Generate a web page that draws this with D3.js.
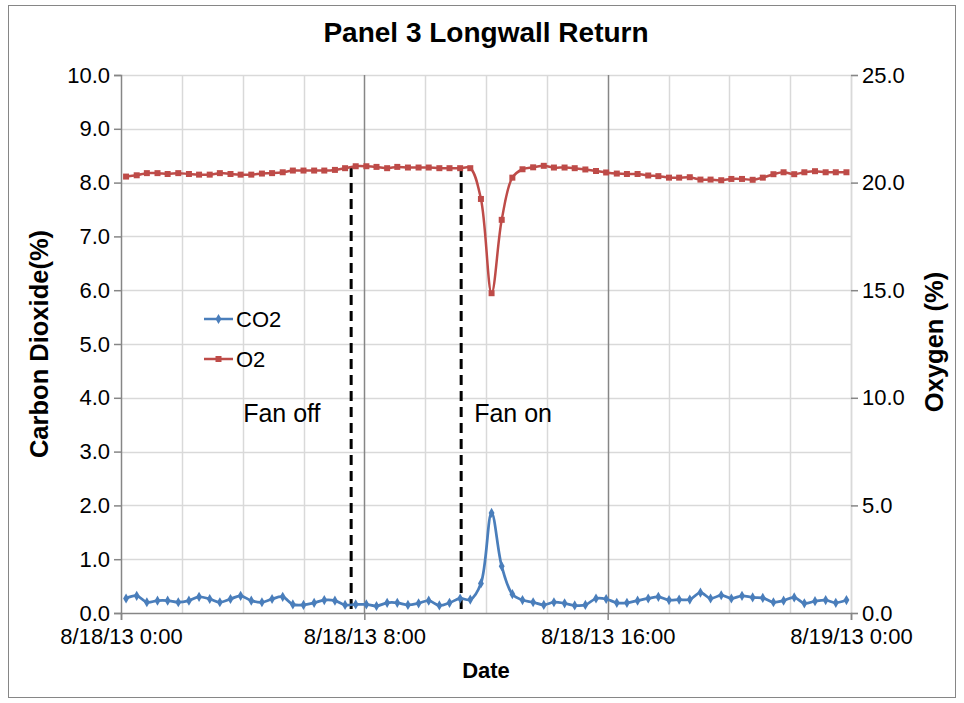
<!DOCTYPE html>
<html>
<head>
<meta charset="utf-8">
<script src="https://cdn.jsdelivr.net/npm/d3@7"></script>
<style>
  html, body { margin: 0; padding: 0; background: #fff; }
  svg { display: block; font-family: "Liberation Sans", Arial, sans-serif; }
</style>
</head>
<body>
<svg id="chart" width="964" height="703"></svg>
<script>
// ---- data ----
const minutes = [10,31,51,72,92,113,134,154,175,195,216,236,257,278,298,319,339,360,381,401,
  422,442,463,484,504,525,545,566,587,607,628,648,669,689,710,731,751,772,792,813,
  834,854,875,895,916,937,957,978,998,1019,1040,1060,1081,1101,1122,1143,1163,1184,1204,1225,
  1246,1266,1287,1307,1328,1348,1369,1390,1410,1431];
const co2 = [0.27,0.32,0.20,0.23,0.23,0.20,0.23,0.30,0.26,0.20,
  0.26,0.32,0.23,0.20,0.26,0.30,0.16,0.15,0.19,0.24,
  0.23,0.15,0.16,0.16,0.13,0.19,0.19,0.15,0.18,0.23,
  0.14,0.19,0.27,0.25,0.55,1.86,0.87,0.35,0.24,0.20,
  0.15,0.20,0.18,0.14,0.15,0.27,0.26,0.19,0.19,0.23,
  0.27,0.30,0.24,0.25,0.25,0.38,0.27,0.33,0.27,0.32,
  0.29,0.28,0.20,0.23,0.29,0.18,0.22,0.24,0.19,0.24];
const o2 = [20.28,20.34,20.44,20.44,20.40,20.44,20.40,20.37,20.37,20.44,
  20.40,20.37,20.37,20.42,20.44,20.48,20.56,20.56,20.56,20.56,
  20.59,20.67,20.76,20.76,20.73,20.67,20.73,20.70,20.70,20.70,
  20.67,20.67,20.67,20.67,19.24,14.86,18.27,20.23,20.62,20.71,
  20.78,20.70,20.70,20.67,20.61,20.54,20.47,20.42,20.40,20.40,
  20.33,20.30,20.23,20.23,20.25,20.14,20.14,20.11,20.17,20.17,
  20.13,20.23,20.39,20.48,20.39,20.48,20.53,20.48,20.48,20.48];
const xTickMinutes = [0,480,960,1440];
const xTickLabels = ["8/18/13 0:00","8/18/13 8:00","8/18/13 16:00","8/19/13 0:00"];
const leftTicks = [0,1,2,3,4,5,6,7,8,9,10];
const rightTicks = [0,5,10,15,20,25];
const fanEvents = [{label:"Fan off", minute:454}, {label:"Fan on", minute:671}];
const seriesNames = ["CO2","O2"];

// ---- layout ----
const svg = d3.select("#chart");
const L = 121, R = 851, T = 75, B = 613;
const x = d3.scaleLinear().domain([0,1440]).range([L,R]);
const yL = d3.scaleLinear().domain([0,10]).range([B,T]);
const yR = d3.scaleLinear().domain([0,25]).range([B,T]);

const blue = "#4A7EBB", red = "#BE4B48", axisCol = "#868686", gridCol = "#D9D9D9";

// outer border
svg.append("rect").attr("x",8.5).attr("y",5.5).attr("width",947).attr("height",692)
  .attr("fill","#fff").attr("stroke","#868686").attr("stroke-width",1);

// title
svg.append("text").attr("x",486).attr("y",42).attr("text-anchor","middle")
  .attr("font-size",28).attr("font-weight","bold").text("Panel 3 Longwall Return");

// horizontal gridlines
svg.append("g").selectAll("line").data(leftTicks.filter(d=>d>0)).join("line")
  .attr("x1",L).attr("x2",R).attr("y1",d=>Math.round(yL(d))+0.5).attr("y2",d=>Math.round(yL(d))+0.5)
  .attr("stroke",gridCol).attr("stroke-width",1.5);
// vertical gridlines every 2 hours
const vgrid = d3.range(120,1441,120);
svg.append("g").selectAll("line").data(vgrid).join("line")
  .attr("x1",d=>Math.round(x(d))+0.5).attr("x2",d=>Math.round(x(d))+0.5).attr("y1",T).attr("y2",B)
  .attr("stroke",d=> (d%480===0 && d<1440) ? axisCol : gridCol).attr("stroke-width",1.5);

// axes
const axL = d3.axisLeft(yL).tickValues(leftTicks).tickFormat(d3.format(".1f")).tickSize(7).tickPadding(4);
const gL = svg.append("g").attr("transform",`translate(${L},0)`).call(axL);
const axR = d3.axisRight(yR).tickValues(rightTicks).tickFormat(d3.format(".1f")).tickSize(7).tickPadding(4);
const gR = svg.append("g").attr("transform",`translate(${R},0)`).call(axR);
const axB = d3.axisBottom(x).tickValues(xTickMinutes).tickFormat((d,i)=>xTickLabels[i]).tickSize(7).tickPadding(8);
const gB = svg.append("g").attr("transform",`translate(0,${B})`).call(axB);
[gL,gR,gB].forEach(g=>{
  g.selectAll("path").attr("stroke",axisCol).attr("stroke-width",1.5);
  g.selectAll("line").attr("stroke",axisCol).attr("stroke-width",1.5);
  g.selectAll("text").attr("font-size",22).attr("fill","#000").attr("font-family","Liberation Sans, Arial, sans-serif");
});
gR.select("path").attr("stroke",gridCol);

// axis titles
svg.append("text").attr("transform",`translate(48,344) rotate(-90)`).attr("text-anchor","middle")
  .attr("font-size",25.5).attr("font-weight","bold").text("Carbon Dioxide(%)");
svg.append("text").attr("transform",`translate(943,342) rotate(-90)`).attr("text-anchor","middle")
  .attr("font-size",25.5).attr("font-weight","bold").text("Oxygen (%)");
svg.append("text").attr("x",486).attr("y",678).attr("text-anchor","middle")
  .attr("font-size",22).attr("font-weight","bold").text("Date");

// fan event dashed lines
svg.append("g").selectAll("line").data(fanEvents).join("line")
  .attr("x1",d=>x(d.minute)).attr("x2",d=>x(d.minute))
  .attr("y1",yR(20.72)).attr("y2",yL(0))
  .attr("stroke","#000").attr("stroke-width",3).attr("stroke-dasharray","10,6");
svg.append("g").selectAll("text").data(fanEvents).join("text")
  .attr("x",d=>x(d.minute)-108*(d.label==="Fan off"?1:0)+ (d.label==="Fan on"?13:0))
  .attr("y",yL(3.55)).attr("font-size",25).text(d=>d.label);

// lines
const curve = d3.curveCatmullRom.alpha(0.5);
const co2Line = d3.line().x((d,i)=>x(minutes[i])).y(d=>yL(d)).curve(curve);
const o2Line = d3.line().x((d,i)=>x(minutes[i])).y(d=>yR(d)).curve(curve);
svg.append("path").attr("d",o2Line(o2)).attr("fill","none").attr("stroke",red).attr("stroke-width",2.5);
svg.append("path").attr("d",co2Line(co2)).attr("fill","none").attr("stroke",blue).attr("stroke-width",2.75);

// markers
const sq = d3.symbol().type(d3.symbolSquare).size(36);
const dm = d3.symbol().type(d3.symbolDiamond).size(30);
svg.append("g").selectAll("path").data(o2).join("path")
  .attr("transform",(d,i)=>`translate(${x(minutes[i])},${yR(d)})`).attr("d",sq()).attr("fill",red);
svg.append("g").selectAll("path").data(co2).join("path")
  .attr("transform",(d,i)=>`translate(${x(minutes[i])},${yL(d)})`).attr("d",dm()).attr("fill",blue);

// legend
const leg = svg.append("g");
const legY = [319, 359];
const legCol = [blue, red];
seriesNames.forEach((n,i)=>{
  leg.append("line").attr("x1",204).attr("x2",233).attr("y1",legY[i]).attr("y2",legY[i])
    .attr("stroke",legCol[i]).attr("stroke-width",2.5);
  leg.append("path").attr("transform",`translate(218.5,${legY[i]})`)
    .attr("d", i===0 ? dm() : sq()).attr("fill",legCol[i]);
  leg.append("text").attr("x",236).attr("y",legY[i]+8).attr("font-size",22).text(n);
});
</script>
</body>
</html>
